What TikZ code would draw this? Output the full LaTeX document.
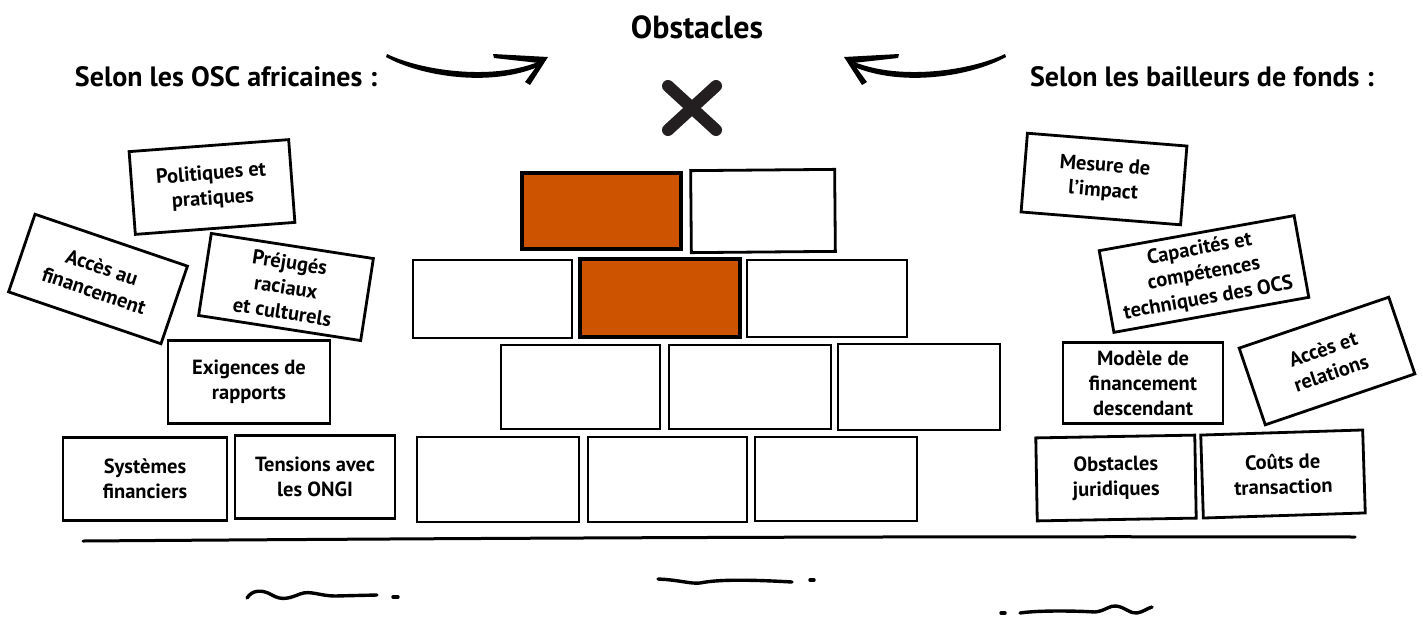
\documentclass[tikz,border=0pt]{standalone}
\usepackage{fontspec}
\setmainfont{PT Sans}
\definecolor{brickorange}{RGB}{206,83,0}
\definecolor{xcol}{RGB}{35,31,32}
\begin{document}
\begin{tikzpicture}[x=1pt,y=-1pt,
  box/.style={draw=black, line width=2.8pt, rectangle, inner sep=2pt, align=center,
    font=\fontsize{20.5}{25}\selectfont\bfseries},
  brickw/.style={draw=black, line width=2.8pt, fill=white, rectangle, inner sep=0pt},
  bricko/.style={draw=black, line width=3.6pt, fill=brickorange, rectangle, inner sep=0pt},
  hdr/.style={font=\fontsize{28}{32}\selectfont\bfseries, inner sep=0pt},
  squig/.style={line width=3.4pt, line cap=round}]
\useasboundingbox (0,0) rectangle (1423,616);

% titles
\node[font=\fontsize{32}{36}\selectfont\bfseries, inner sep=0pt] (title) at (697,27) {Obstacles};
\node[hdr] (left) at (226,77) {Selon les OSC africaines :};
\node[hdr] (right) at (1202,77) {Selon les bailleurs de fonds :};

% arrows
\fill (387,54) .. controls (420,70) and (490,81) .. (538,62) -- (540,66)
  .. controls (490,88) and (420,76) .. (386,57) -- cycle;
\fill (493,54) -- (548,57) -- (530,85) -- (525,82) -- (539,63) -- (494,58) -- cycle;
\begin{scope}[xshift=1392pt, xscale=-1]
\fill (387,54) .. controls (420,70) and (490,81) .. (538,62) -- (540,66)
  .. controls (490,88) and (420,76) .. (386,57) -- cycle;
\fill (493,54) -- (548,57) -- (530,85) -- (525,82) -- (539,63) -- (494,58) -- cycle;
\end{scope}

% cross
\draw[line width=12pt, line cap=round, xcol] (668,86) -- (716,130) (716,86) -- (668,130);

% bricks
\node[bricko, minimum width=159pt, minimum height=76pt] (b11) at (601.5,211) {};
\node[brickw, minimum width=144pt, minimum height=82pt, rotate=0.5] (b12) at (763,211) {};
\node[brickw, minimum width=159pt, minimum height=78pt] (b21) at (492.5,299) {};
\node[bricko, minimum width=160pt, minimum height=78pt] (b22) at (660,298) {};
\node[brickw, minimum width=160pt, minimum height=77pt] (b23) at (827,298.5) {};
\node[brickw, minimum width=159pt, minimum height=84pt] (b31) at (580.5,387) {};
\node[brickw, minimum width=162pt, minimum height=84pt] (b32) at (750,387) {};
\node[brickw, minimum width=162pt, minimum height=86pt] (b33) at (919,387) {};
\node[brickw, minimum width=162pt, minimum height=85pt] (b41) at (498,479.5) {};
\node[brickw, minimum width=159pt, minimum height=85pt] (b42) at (667.5,479.5) {};
\node[brickw, minimum width=162pt, minimum height=84pt] (b43) at (836,479) {};

% left boxes
\node[box, minimum width=160pt, minimum height=83pt, rotate=4.3] (pol) at (212,187) {Politiques et\\pratiques};
\node[box, minimum width=161pt, minimum height=82pt, rotate=-18.8] (acc) at (98,279) {Accès au\\financement};
\node[box, minimum width=164pt, minimum height=83pt, rotate=-8.8] (pre) at (286,287) {Préjugés\\raciaux\\et culturels};
\node[box, minimum width=162pt, minimum height=83pt] (exi) at (249,382) {Exigences de\\rapports};
\node[box, minimum width=164pt, minimum height=83pt] (sys) at (145,479) {Systèmes\\financiers};
\node[box, minimum width=160pt, minimum height=83pt] (ten) at (315,477) {Tensions avec\\les ONGI};

% right boxes
\node[box, minimum width=160pt, minimum height=79pt, rotate=-4.6] (mes) at (1104,179) {Mesure de\\l’impact};
\node[box, minimum width=198pt, minimum height=83pt, rotate=10.2] (cap) at (1204,274) {Capacités et\\compétences\\techniques des OCS};
\node[box, minimum width=160pt, minimum height=81pt] (mod) at (1143,383) {Modèle de\\financement\\descendant};
\node[box, minimum width=158pt, minimum height=81pt, rotate=18.8] (rel) at (1327,361) {Accès et\\relations};
\node[box, minimum width=159pt, minimum height=83pt, rotate=1] (jur) at (1116,478) {Obstacles\\juridiques};
\node[box, minimum width=162pt, minimum height=83pt, rotate=1.8] (cou) at (1283,474) {Coûts de\\transaction};

% ground line
\draw[line width=3pt, line cap=round] (83,541) .. controls (500,538) and (900,536) .. (1355,537);

% squiggles
\draw[squig] (247,598) .. controls (252,590) and (262,589) .. (272,595)
  .. controls (282,601) and (290,598) .. (300,594)
  .. controls (310,590) and (320,596) .. (335,596) -- (377,595);
\draw[squig] (393,597) -- (398,597);
\draw[squig] (658,579) .. controls (680,580) and (690,584) .. (700,583)
  .. controls (715,580) and (740,579) .. (792,582);
\draw[squig] (810,580) -- (814,580);
\draw[squig] (1001,613) -- (1005,613);
\draw[squig] (1020,613) .. controls (1040,610) and (1080,611) .. (1095,612)
  .. controls (1105,611) and (1110,605) .. (1116,606)
  .. controls (1125,607) and (1130,614) .. (1137,613)
  .. controls (1143,612) and (1148,608) .. (1152,607);
\end{tikzpicture}
\end{document}
